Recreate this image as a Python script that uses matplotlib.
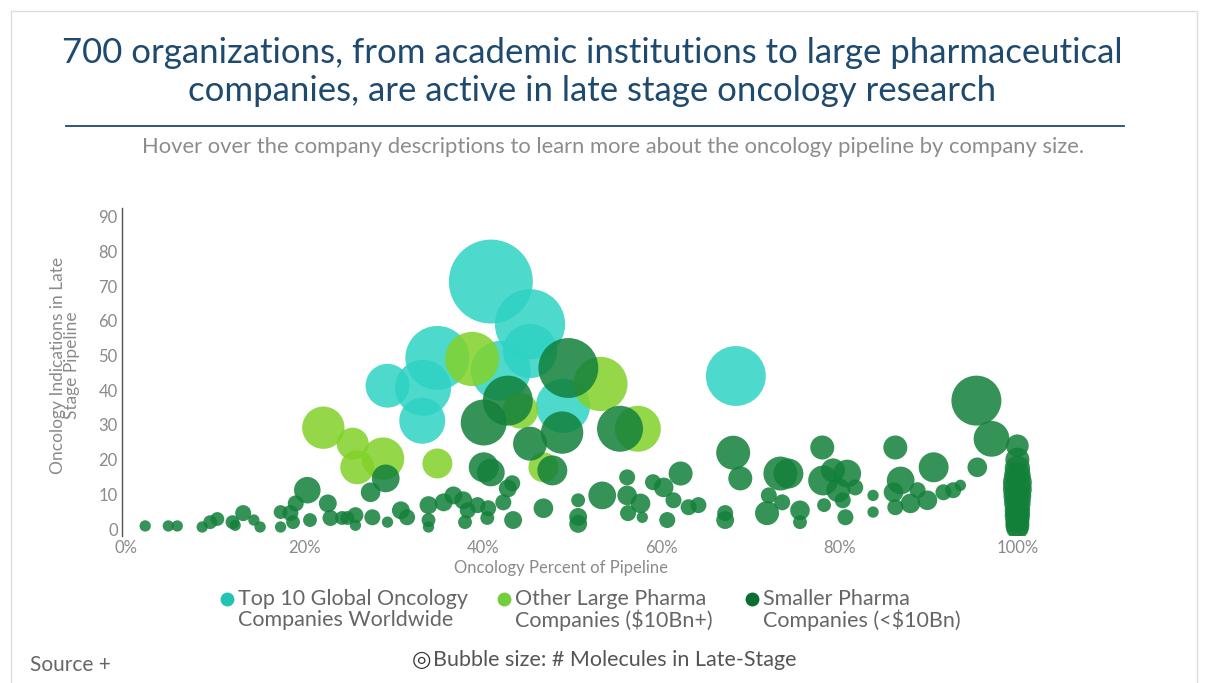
import numpy as np
import matplotlib.pyplot as plt
from matplotlib.lines import Line2D
from matplotlib.patches import Rectangle
from matplotlib.ticker import FuncFormatter

plt.rcParams['font.family'] = ['Lato', 'DejaVu Sans']

# Top 10 global oncology companies: (% of pipeline in oncology, indications, molecules)
top10_x = [40.9, 45.3, 34.9, 29.3, 33.3, 33.2, 42.0, 45.3, 49.0, 68.4]
top10_y = [71.3, 59.0, 49.3, 41.3, 40.7, 31.2, 45.6, 51.3, 35.5, 44.1]
top10_m = [110, 77, 64, 30, 49, 33, 56, 46, 46, 56]

# Other large pharma ($10Bn+)
large_x = [38.8, 53.2, 57.4, 22.1, 25.4, 25.9, 28.8, 34.9, 46.8, 44.2]
large_y = [49.0, 41.8, 28.9, 29.2, 24.6, 17.8, 20.3, 18.9, 17.8, 34.1]
large_m = [46, 46, 33, 28, 16, 18, 28, 14, 14, 20]

# Smaller pharma (<$10Bn)
small_x = [2.1, 4.7, 5.7, 8.5, 9.4, 10.2, 11.9, 12.2, 13.1, 14.3, 15.0, 17.3,
           17.3, 18.4, 19.0, 20.3, 18.7, 20.6, 22.6, 22.9, 24.2, 24.8, 25.7, 25.7,
           27.4, 27.6, 29.1, 29.3, 30.8, 31.5, 33.9, 33.9, 33.9, 35.6, 36.7, 37.8,
           38.3, 38.0, 39.4, 40.5, 40.6, 40.1, 40.9, 40.1, 42.8, 42.8, 43.3, 42.3,
           43.4, 45.3, 46.8, 47.8, 48.9, 49.6, 50.7, 50.7, 50.7, 53.4, 55.4, 56.2,
           56.2, 56.3, 57.7, 57.9, 59.1, 60.3, 62.2, 61.4, 60.7, 63.1, 64.2, 67.2,
           67.2, 68.1, 68.9, 71.9, 72.1, 73.4, 73.6, 74.3, 75.6, 75.6, 78.1, 78.2,
           78.3, 79.3, 79.9, 80.9, 80.7, 80.4, 81.8, 83.8, 83.8, 86.3, 86.9, 86.1,
           86.3, 88.0, 88.8, 90.6, 89.9, 91.7, 92.8, 93.6, 95.4, 95.5, 97.1,
           100.0, 100.0, 100.0, 100.0, 100.0, 100.0, 100.0, 100.0, 100.0, 100.0,
           100.0, 100.0, 100.0]
small_y = [0.9, 0.9, 0.9, 0.6, 2.0, 2.9, 2.0, 1.1, 4.6, 2.6, 0.6, 4.9,
           0.6, 4.6, 7.4, 11.2, 2.0, 2.6, 7.4, 3.2, 3.2, 3.2, 4.0, 1.1,
           10.6, 3.4, 14.6, 2.0, 5.4, 3.4, 2.6, 6.9, 0.6, 7.7, 9.7, 8.3,
           5.4, 2.0, 6.9, 3.2, 6.0, 17.8, 16.3, 30.7, 37.0, 11.7, 13.2, 7.7,
           2.6, 24.6, 6.0, 16.9, 27.8, 46.4, 8.3, 3.5, 1.5, 9.7, 28.9, 14.9,
           9.7, 4.6, 7.4, 3.4, 13.5, 12.0, 16.0, 8.3, 2.6, 6.3, 6.9, 2.6,
           4.6, 22.0, 14.6, 4.6, 9.7, 16.0, 7.7, 16.0, 5.4, 2.0, 23.5, 14.0,
           6.9, 16.9, 11.2, 16.0, 3.4, 8.3, 12.0, 9.7, 4.9, 23.5, 14.0, 10.6,
           6.3, 7.4, 11.2, 17.8, 8.3, 10.6, 11.2, 12.6, 37.0, 17.8, 26.0,
           24.0, 20.0, 17.5, 15.5, 13.5, 11.5, 9.5, 7.5, 5.5, 4.0,
           2.5, 1.2, 0.3]
small_m = [2, 2, 2, 2, 3, 3, 3, 2, 4, 2, 2, 3,
           2, 4, 4, 11, 3, 3, 5, 4, 3, 3, 4, 2,
           6, 4, 12, 2, 5, 4, 3, 5, 2, 5, 5, 5,
           4, 3, 4, 3, 4, 14, 12, 33, 39, 5, 4, 4,
           5, 18, 6, 14, 28, 56, 3, 5, 5, 12, 33, 4,
           6, 4, 6, 2, 4, 6, 9, 4, 4, 4, 4, 5,
           4, 18, 9, 9, 4, 18, 4, 14, 6, 3, 9, 14,
           3, 9, 9, 12, 4, 4, 4, 2, 2, 9, 12, 6,
           4, 6, 4, 14, 6, 4, 4, 2, 39, 6, 20,
           8, 9, 10, 11, 13, 13, 12, 11, 10, 10,
           9, 9, 8]

groups = [
    ('Top 10 Global Oncology', 'Companies Worldwide', top10_x, top10_y, top10_m, '#2ed3c3', '#22c3b3'),
    ('Other Large Pharma', 'Companies ($10Bn+)', large_x, large_y, large_m, '#82d22a', '#74cd3c'),
    ('Smaller Pharma', 'Companies (<$10Bn)', small_x, small_y, small_m, '#13803a', '#0a6e33'),
]

SIZE_PER_MOLECULE = 33.2
W, H = 1208, 683

fig = plt.figure(figsize=(12.08, 6.83), dpi=100)
ax = fig.add_axes([0.101, 0.2152, 0.7707, 0.4803])

for _, _, xs, ys, ms, color, _ in groups:
    ax.scatter(xs, ys, s=np.array(ms) * SIZE_PER_MOLECULE, color=color,
               alpha=0.85, linewidths=0)

ax.set_xlim(-0.5, 104)
ax.set_ylim(-2, 92.5)
ax.set_xticks(np.arange(0, 101, 20))
ax.set_yticks(np.arange(0, 91, 10))
ax.xaxis.set_major_formatter(FuncFormatter(lambda v, p: f'{v:.0f}%'))
ax.tick_params(length=0, labelsize=12, colors='#8a8a8a', pad=3)
for side in ['top', 'right', 'bottom']:
    ax.spines[side].set_visible(False)
ax.spines['left'].set_color('#555555')
ax.spines['left'].set_linewidth(1)

ax.set_xlabel('Oncology Percent of Pipeline', fontsize=12, color='#8a8a8a')
ax.xaxis.set_label_coords(0.471, -0.072)
ax.set_ylabel('Oncology Indications in Late\nStage Pipeline', fontsize=12.5,
              color='#8a8a8a', linespacing=0.85)
ax.yaxis.set_label_coords(-0.045, 0.52)

# legend: dot beside the first line of each two-line label
legend_left = [227, 504, 752]
for (line1, line2, _, _, _, _, legend_color), lx in zip(groups, legend_left):
    fig.add_artist(Line2D([lx / W], [1 - 599 / H], marker='o', markersize=10,
                          markerfacecolor=legend_color, markeredgewidth=0,
                          linestyle=''))
    fig.text((lx + 11) / W, 1 - 599 / H, line1, ha='left', va='center',
             fontsize=15.5, color='#666666')
    fig.text((lx + 11) / W, 1 - 620 / H, line2, ha='left', va='center',
             fontsize=15.5, color='#666666')

# header
fig.text(0.49, 1 - 72 / H, '700 organizations, from academic institutions to large pharmaceutical\n'
         'companies, are active in late stage oncology research',
         ha='center', va='center', fontsize=25, color='#1f4a70', linespacing=1.2)
fig.add_artist(Line2D([66 / W, 1124 / W], [1 - 126 / H, 1 - 126 / H],
                      color='#1f4a70', linewidth=1.3))
fig.text(613 / W, 1 - 147 / H,
         'Hover over the company descriptions to learn more about the oncology pipeline by company size.',
         ha='center', va='center', fontsize=15.8, color='#8c8c8c')

# footer
fig.text(30 / W, 1 - 665 / H, 'Source +', ha='left', va='center',
         fontsize=15, color='#666666')
fig.text(412 / W, 1 - 660 / H, '◎', ha='left', va='center',
         fontsize=16, color='#333333', family='DejaVu Sans')
fig.text(433 / W, 1 - 660 / H, 'Bubble size: # Molecules in Late-Stage',
         ha='left', va='center', fontsize=15.5, color='#555555')

fig.add_artist(Rectangle((11 / W, -0.01), 1186 / W, 1 - 11 / H + 0.01,
                         transform=fig.transFigure, fill=False,
                         edgecolor='#dddddd', linewidth=1))

fig.savefig('out.png', dpi=100)
